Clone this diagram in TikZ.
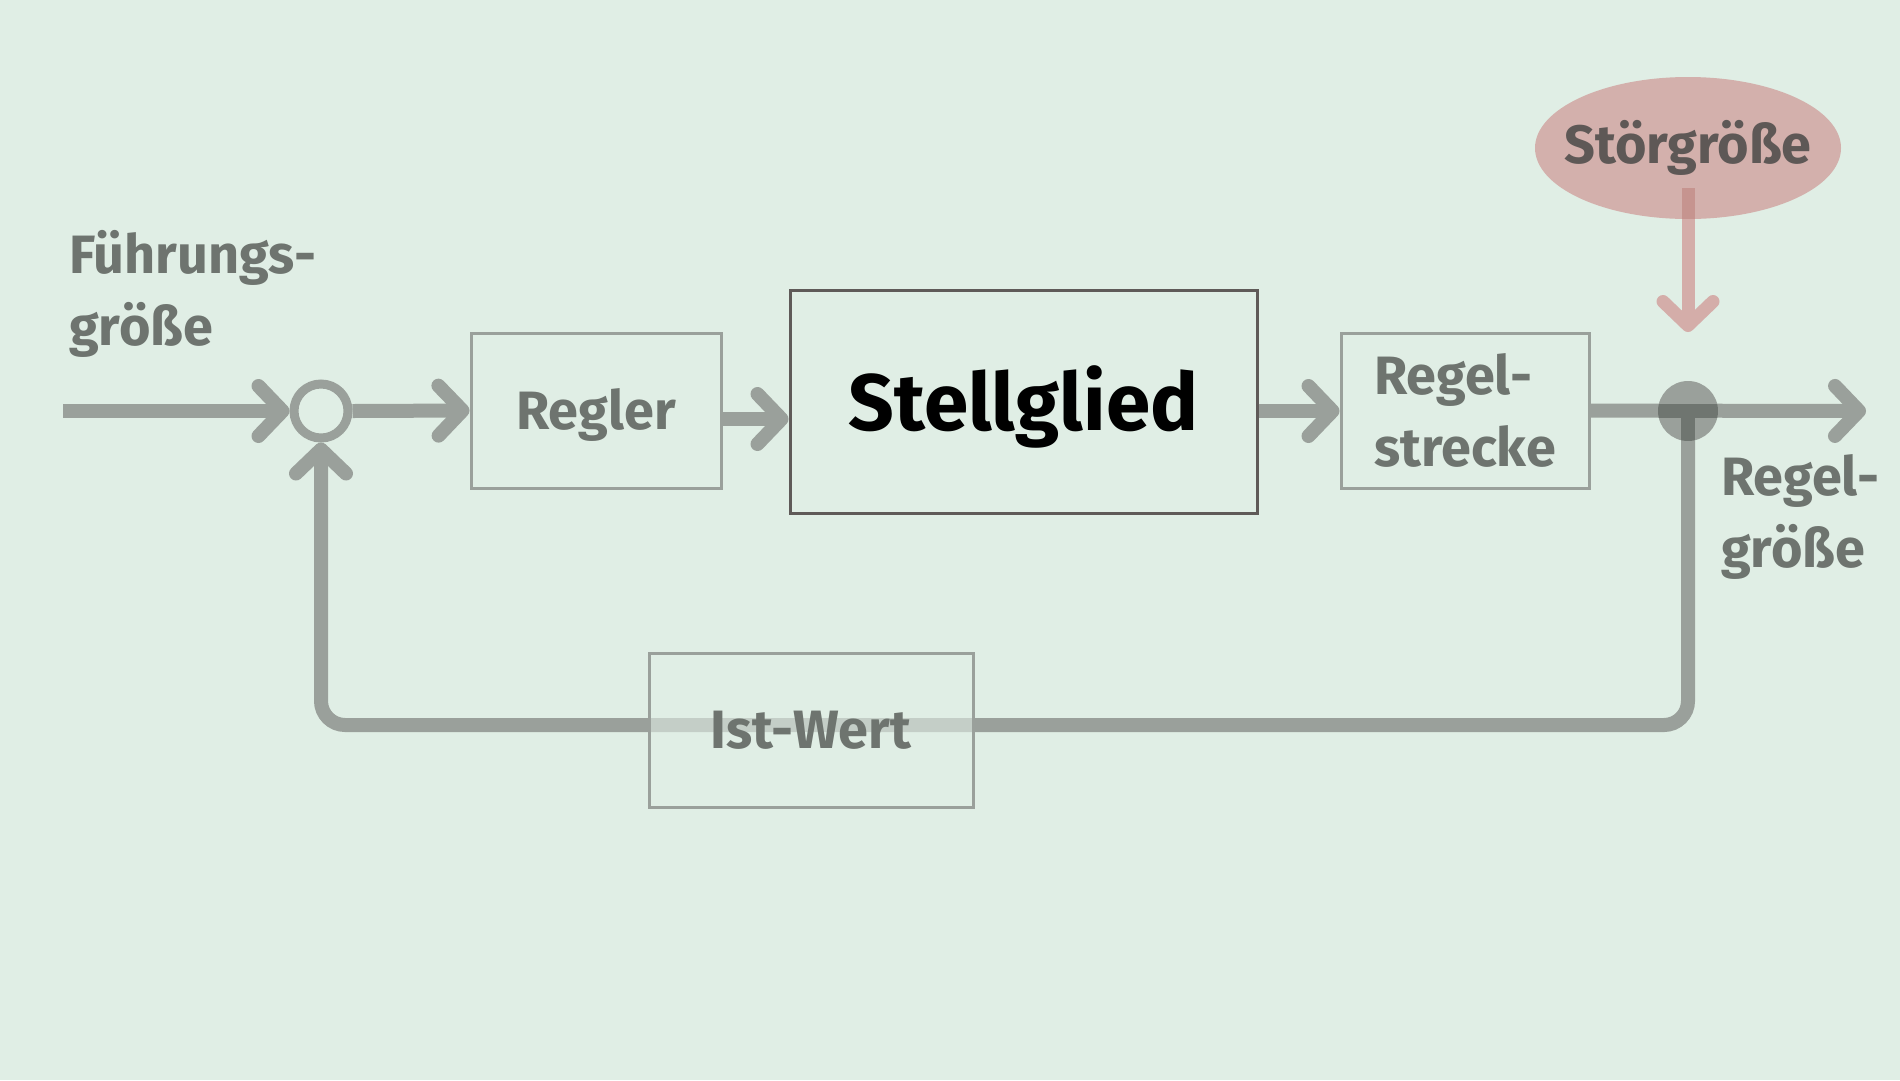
\documentclass[tikz,border=0pt]{standalone}
\usepackage{fontspec}
\setmainfont{Fira Sans}
\usetikzlibrary{arrows.meta,shapes.geometric}
\definecolor{bg}{HTML}{E0EEE5}
\definecolor{linegray}{HTML}{9AA09B}
\definecolor{overlap}{HTML}{6F7570}
\definecolor{textgray}{HTML}{6E746F}
\definecolor{darkborder}{HTML}{5F5A58}
\definecolor{ellfill}{HTML}{D3B0AC}
\definecolor{redline}{HTML}{D4ADA9}
\definecolor{redover}{HTML}{C6948F}
\definecolor{stoertext}{HTML}{5E5856}
\tikzset{
  lbl/.style={font=\fontsize{54}{72}\selectfont\bfseries, text=textgray, inner sep=0pt, align=left},
  graybox/.style={draw=linegray, line width=3pt, inner sep=0pt, font=\fontsize{54}{72}\selectfont\bfseries, text=textgray},
  conn/.style={draw=linegray, line width=14pt, -{Straight Barb[length=24pt,width=50pt,round]}},
}
\begin{document}
\begin{tikzpicture}[x=1pt,y=-1pt]
\fill[bg] (0,0) rectangle (1900,1080);
\useasboundingbox (0,0) rectangle (1900,1080);

% nodes
\node[circle, draw=linegray, line width=9pt, minimum size=54pt, inner sep=0pt] (sum) at (321,411) {};
\node[graybox, minimum width=250pt, minimum height=155pt, text depth=4pt] (regler) at (596,410.5) {Regler};
\node[draw=darkborder, line width=3pt, minimum width=467pt, minimum height=223pt, inner sep=0pt, text depth=6pt,
      font=\fontsize{80}{90}\selectfont\bfseries, text=black] (stell) at (1023.5,401.5) {Stellglied};
\node[graybox, minimum width=248pt, minimum height=155pt, align=left] (strecke) at (1465,410.5) {Regel-\\strecke};
\node[lbl, anchor=base west] (fg) at (69,345) {Führungs-\\größe};
\node[lbl, anchor=base west] (rg) at (1721,567) {Regel-\\größe};

\coordinate (in) at (63,411);
\coordinate (out) at (1866,411);
\coordinate (fbl) at (321,725);
\coordinate (rs) at (1688,188);
\coordinate (rt) at (1688,332);

% Störgröße
\node[ellipse, fill=ellfill, inner sep=0pt, minimum width=306pt, minimum height=142pt] (stoer) at (1688,148) {};
\node[font=\fontsize{54}{72}\selectfont\bfseries, text=stoertext, inner sep=0pt] (stoertxt) at (stoer.center) {Störgröße};
\draw[draw=redline, line width=13pt, -{Straight Barb[length=24pt,width=50pt,round]}] (rs) -- (rt);
\begin{scope}
  \clip (1688,148) ellipse [x radius=153, y radius=71];
  \draw[draw=redover, line width=13pt] (rs) -- (stoer.south);
\end{scope}

% connectors
\draw[conn] (in) -- (sum.west);
\draw[conn] (sum.east) -- (regler.west);
\draw[conn] (regler.east |- 0,419) -- (stell.west |- 0,419);
\draw[conn] (stell.east |- 0,411) -- (strecke.west |- 0,411);
\draw[conn] (strecke.east) -- (out);
\draw[conn, rounded corners=24pt] (1688,411) |- (fbl) -- (sum.south);

\node[circle, fill=linegray, minimum size=60pt, inner sep=0pt] (dot) at (1688,411) {};
\begin{scope}
  \clip (dot.center) circle [radius=30];
  \draw[draw=overlap, line width=14pt] (dot.west) -- (dot.east);
  \draw[draw=overlap, line width=14pt] (dot.center) -- (dot.south);
\end{scope}

\node[graybox, fill=bg, fill opacity=0.6, text opacity=1, minimum width=324pt, minimum height=154pt] (ist) at (811,730) {Ist-Wert};
\end{tikzpicture}
\end{document}
